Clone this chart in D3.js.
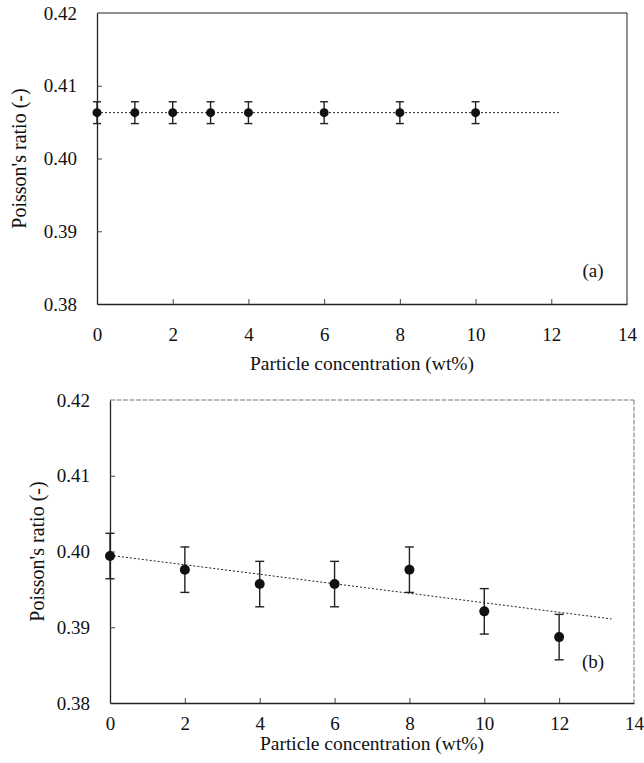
<!DOCTYPE html>
<html><head><meta charset="utf-8">
<script src="https://cdn.jsdelivr.net/npm/d3@7"></script>
<style>
html,body{margin:0;padding:0;background:#fff;}
svg{display:block;}
text{font-family:"Liberation Serif","Times New Roman",serif;fill:#111;}
</style></head>
<body>
<svg id="chart" width="644" height="763"></svg>
<script>
// ---- data ----
const xTicks = [0, 2, 4, 6, 8, 10, 12, 14];
const yTicks = [0.38, 0.39, 0.40, 0.41, 0.42];
const xA = [0, 1, 2, 3, 4, 6, 8, 10];
const yA = [0.4063, 0.4063, 0.4063, 0.4063, 0.4063, 0.4063, 0.4063, 0.4063];
const errA = [0.0015, 0.0015, 0.0015, 0.0015, 0.0015, 0.0015, 0.0015, 0.0015];
const trendAx = [0, 12.2];
const trendAy = [0.4063, 0.4063];
const xB = [0, 2, 4, 6, 8, 10, 12];
const yB = [0.3994, 0.3976, 0.3957, 0.3957, 0.3976, 0.3921, 0.3887];
const errB = [0.003, 0.003, 0.003, 0.003, 0.003, 0.003, 0.003];
const trendBx = [0, 13.4];
const trendBy = [0.3995, 0.3911];
const xTitle = "Particle concentration (wt%)";
const yTitle = "Poisson's ratio (-)";

const svg = d3.select("#chart");

function panel(cfg) {
  const x = d3.scaleLinear().domain([0, 14]).range([cfg.left, cfg.right]);
  const y = d3.scaleLinear().domain([0.38, 0.42]).range([cfg.bottom, cfg.top]);
  const g = svg.append("g");

  // frame
  g.append("line").attr("x1", cfg.left).attr("x2", cfg.right).attr("y1", cfg.top).attr("y2", cfg.top)
    .attr("stroke", cfg.frameColor).attr("stroke-width", cfg.frameW).attr("stroke-dasharray", cfg.frameDash);
  g.append("line").attr("x1", cfg.right).attr("x2", cfg.right).attr("y1", cfg.top).attr("y2", cfg.bottom)
    .attr("stroke", cfg.frameColor).attr("stroke-width", cfg.frameW).attr("stroke-dasharray", cfg.frameDash);

  const xAxis = d3.axisBottom(x).tickValues(xTicks).tickFormat(d3.format("d"))
    .tickSizeInner(-5).tickSizeOuter(0).tickPadding(cfg.xPad);
  const gx = g.append("g").attr("transform", `translate(0,${cfg.bottom})`).call(xAxis);
  const yAxis = d3.axisLeft(y).tickValues(yTicks).tickFormat(d3.format(".2f"))
    .tickSizeInner(-5).tickSizeOuter(0).tickPadding(20);
  const gy = g.append("g").attr("transform", `translate(${cfg.left},0)`).call(yAxis);
  [gx, gy].forEach(a => {
    a.select(".domain").attr("stroke", "#222").attr("stroke-width", 1.3);
    a.selectAll(".tick line").attr("stroke", "#444").attr("stroke-width", 1);
    a.selectAll(".tick text").style("font-family", '"Liberation Serif", serif')
      .style("font-size", cfg.tickFont + "px").attr("fill", "#111");
  });
  gx.selectAll(".tick").filter(d => d === 0 || d === 14).select("line").remove();
  gy.selectAll(".tick").filter(d => d === 0.38 || d === 0.42).select("line").remove();

  // titles
  g.append("text").attr("x", (cfg.left + cfg.right) / 2).attr("y", cfg.xTitleY)
    .attr("text-anchor", "middle").style("font-size", "19.5px").text(xTitle);
  g.append("text").attr("transform", `translate(${cfg.yTitleX},${(cfg.top + cfg.bottom) / 2}) rotate(-90)`)
    .attr("text-anchor", "middle").style("font-size", "20px").text(yTitle);
  g.append("text").attr("x", cfg.labelX).attr("y", cfg.labelY).attr("text-anchor", "middle")
    .style("font-size", "19px").text(cfg.label);

  // trend line
  const line = d3.line().x(d => x(d[0])).y(d => y(d[1]));
  g.append("path").datum(cfg.tx.map((v, i) => [v, cfg.ty[i]])).attr("d", line)
    .attr("fill", "none").attr("stroke", "#222").attr("stroke-width", 1).attr("stroke-dasharray", "2,2");

  const pts = cfg.xs.map((v, i) => ({ x: v, y: cfg.ys[i], e: cfg.es[i] }));
  const eb = g.append("g").attr("stroke", "#222").attr("stroke-width", 1.4);
  pts.forEach(p => {
    eb.append("line").attr("x1", x(p.x)).attr("x2", x(p.x)).attr("y1", y(p.y - p.e)).attr("y2", y(p.y + p.e));
    [p.y - p.e, p.y + p.e].forEach(v => {
      eb.append("line").attr("x1", x(p.x) - cfg.cap).attr("x2", x(p.x) + cfg.cap)
        .attr("y1", y(v)).attr("y2", y(v));
    });
  });
  g.selectAll("circle.pt").data(pts).enter().append("circle").attr("class", "pt")
    .attr("cx", d => x(d.x)).attr("cy", d => y(d.y)).attr("r", cfg.r).attr("fill", "#111");
}

panel({ left: 97, right: 627, top: 13, bottom: 304, xPad: 24, tickFont: 19,
  xTitleY: 370, yTitleX: 26, labelX: 593, labelY: 277, label: "(a)",
  frameColor: "#222", frameDash: null, frameW: 1,
  xs: xA, ys: yA, es: errA, tx: trendAx, ty: trendAy, cap: 4, r: 4.5 });

panel({ left: 110, right: 634, top: 400, bottom: 703, xPad: 14, tickFont: 19,
  xTitleY: 750, yTitleX: 44, labelX: 593, labelY: 668, label: "(b)",
  frameColor: "#555", frameDash: "5,1.5", frameW: 0.8,
  xs: xB, ys: yB, es: errB, tx: trendBx, ty: trendBy, cap: 4.5, r: 5 });
</script>
</body></html>
